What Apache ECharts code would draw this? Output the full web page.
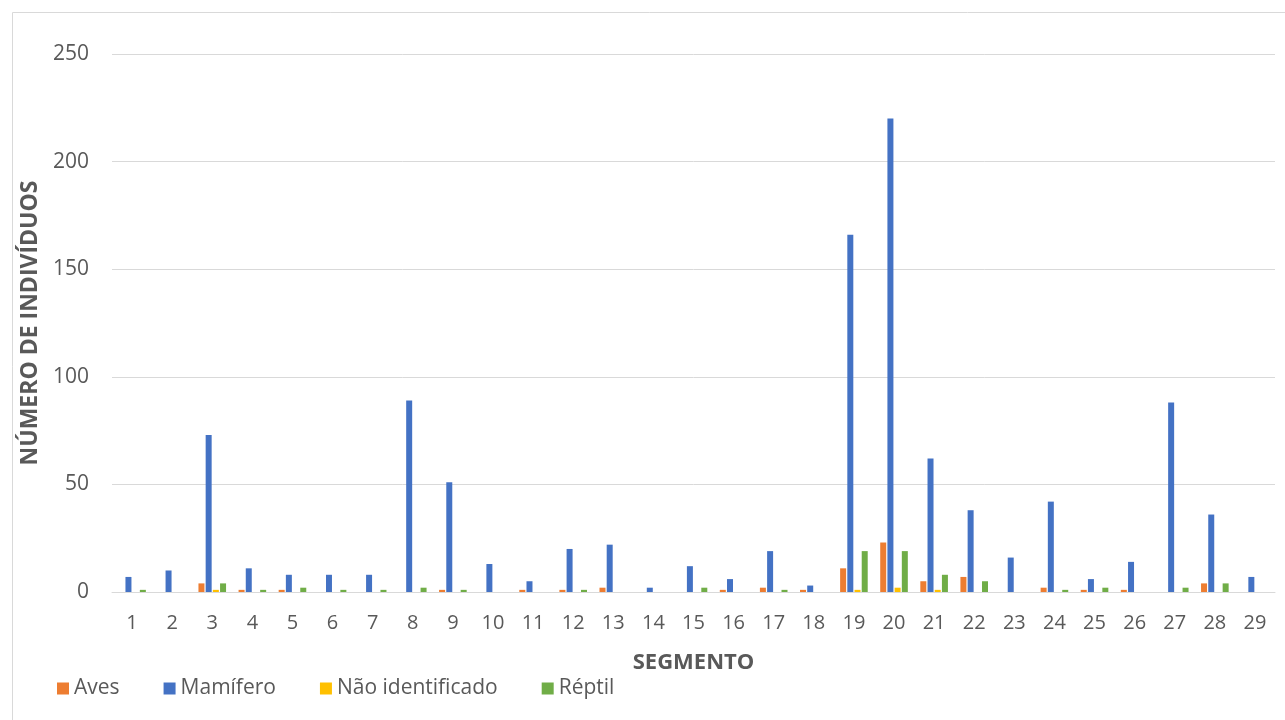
<!DOCTYPE html>
<html>
<head>
<meta charset="utf-8">
<script src="https://cdn.jsdelivr.net/npm/echarts@6/dist/echarts.min.js"></script>
<style>
  html, body { margin: 0; padding: 0; background: #fff; }
  #chart { width: 1285px; height: 720px; }
</style>
</head>
<body>
<div id="chart"></div>
<script>
const segments = ['1','2','3','4','5','6','7','8','9','10','11','12','13','14','15','16','17','18','19','20','21','22','23','24','25','26','27','28','29']
const aves     = [0, 0, 4, 1, 1, 0, 0, 0, 1, 0, 1, 1, 2, 0, 0, 1, 2, 1, 11, 23, 5, 7, 0, 2, 1, 1, 0, 4, 0]
const mamifero = [7, 10, 73, 11, 8, 8, 8, 89, 51, 13, 5, 20, 22, 2, 12, 6, 19, 3, 166, 220, 62, 38, 16, 42, 6, 14, 88, 36, 7]
const naoIdent = [0, 0, 1, 0, 0, 0, 0, 0, 0, 0, 0, 0, 0, 0, 0, 0, 0, 0, 1, 2, 1, 0, 0, 0, 0, 0, 0, 0, 0]
const reptil   = [1, 0, 4, 1, 2, 1, 1, 2, 1, 0, 0, 1, 0, 0, 2, 0, 1, 0, 19, 19, 8, 5, 0, 1, 2, 0, 2, 4, 0]

const font = 'Open Sans'
const textColor = '#595959'

const mkSeries = (name, data, color) => ({
    name: name,
    type: 'bar',
    data: data,
    barWidth: 6,
    barGap: '20%',
    itemStyle: { color: color },
    emphasis: { disabled: true }
})

let chart = echarts.init(document.getElementById('chart'))
chart.setOption({
    animation: false,
    textStyle: { fontFamily: font, color: textColor },
    graphic: [{
        type: 'rect',
        shape: { x: 12.5, y: 12.5, width: 1285, height: 720 },
        style: { fill: 'none', stroke: '#d9d9d9', lineWidth: 1 },
        silent: true
    }],
    grid: { left: 112, right: 10, top: 54, bottom: 128 },
    legend: {
        left: 52,
        top: 673,
        itemWidth: 12,
        itemHeight: 12,
        itemGap: 44,
        icon: 'rect',
        textStyle: { fontFamily: font, fontSize: 21, color: textColor },
        data: ['Aves', 'Mamífero', 'Não identificado', 'Réptil']
    },
    xAxis: {
        type: 'category',
        data: segments,
        name: 'SEGMENTO',
        nameLocation: 'middle',
        nameGap: 60,
        nameTextStyle: { fontFamily: font, fontSize: 22, fontWeight: 'bold', color: textColor },
        axisLine: { lineStyle: { color: '#d9d9d9', width: 1 } },
        axisTick: { show: false },
        axisLabel: { fontSize: 20, color: textColor, margin: 21 }
    },
    yAxis: {
        type: 'value',
        min: 0,
        max: 250,
        interval: 50,
        name: 'NÚMERO DE INDIVÍDUOS',
        nameLocation: 'middle',
        nameGap: 67,
        nameRotate: 90,
        nameTextStyle: { fontFamily: font, fontSize: 23, fontWeight: 'bold', color: textColor },
        axisLine: { show: false },
        axisTick: { show: false },
        splitLine: { lineStyle: { color: '#d9d9d9', width: 1 } },
        axisLabel: { fontSize: 21, color: textColor, margin: 23 }
    },
    series: [
        mkSeries('Aves', aves, '#ED7D31'),
        mkSeries('Mamífero', mamifero, '#4472C4'),
        mkSeries('Não identificado', naoIdent, '#FFC000'),
        mkSeries('Réptil', reptil, '#70AD47')
    ]
})
</script>
</body>
</html>
